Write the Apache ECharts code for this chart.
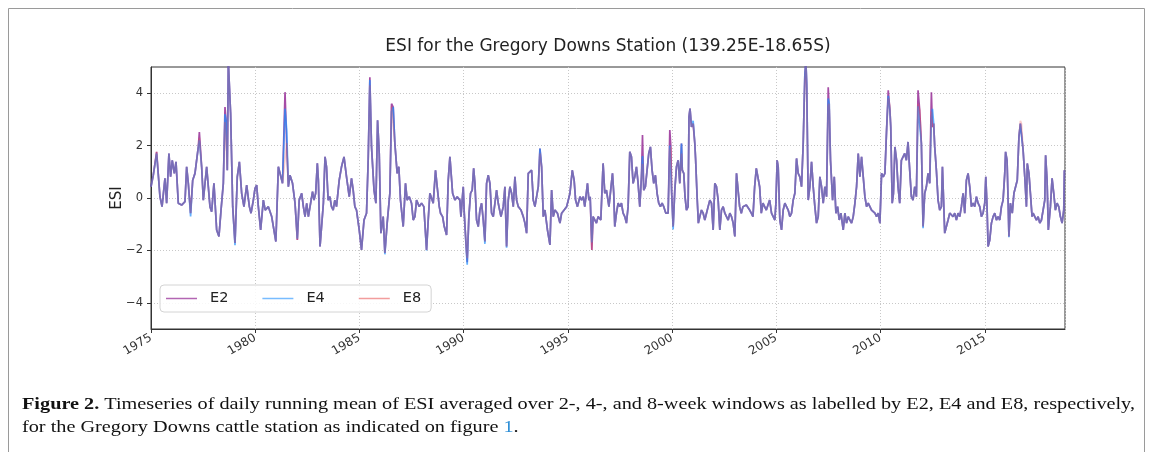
<!DOCTYPE html>
<html><head><meta charset="utf-8">
<script src="https://cdn.jsdelivr.net/npm/echarts@6/dist/echarts.min.js"></script>
<style>html,body{margin:0;padding:0;background:#fff}#c{width:1153px;height:452px}</style>
</head><body><div id="c"></div>
<script>
// ---- data (decimal years) ----
const years = [
1975.00,1975.11,1975.27,1975.43,1975.53,1975.67,1975.75,1975.86,1975.94,1976.02,
1976.12,1976.20,1976.31,1976.47,1976.63,1976.71,1976.79,1976.90,1977.00,1977.11,
1977.27,1977.32,1977.43,1977.51,1977.67,1977.83,1977.91,1978.02,1978.15,1978.26,
1978.36,1978.47,1978.55,1978.60,1978.66,1978.71,1978.82,1978.92,1979.03,1979.14,
1979.24,1979.35,1979.46,1979.59,1979.72,1979.80,1979.91,1979.99,1980.07,1980.15,
1980.26,1980.39,1980.48,1980.63,1980.79,1980.99,1981.11,1981.19,1981.31,1981.43,
1981.51,1981.59,1981.67,1981.79,1981.91,1982.02,1982.11,
1982.23,1982.31,1982.39,1982.47,1982.55,1982.63,1982.75,1982.82,1982.90,1982.98,
1983.03,1983.11,1983.19,1983.27,1983.35,1983.42,1983.50,1983.58,1983.66,1983.74,
1983.82,1983.90,1984.03,1984.14,1984.26,1984.38,1984.51,1984.62,1984.70,1984.78,
1984.86,1984.99,1985.10,1985.22,1985.34,1985.42,1985.50,1985.58,1985.70,1985.79,
1985.87,1985.95,1986.03,1986.14,1986.22,1986.33,1986.46,1986.54,1986.62,1986.70,
1986.81,1986.89,1986.97,1987.10,1987.21,1987.29,1987.39,1987.50,1987.58,1987.66,
1987.74,1987.87,1987.98,1988.09,1988.22,1988.30,1988.38,1988.46,1988.54,1988.65,
1988.73,1988.83,1988.89,1988.99,1989.07,1989.18,1989.26,1989.34,1989.47,1989.58,
1989.69,1989.82,
1989.87,1989.93,1989.98,1990.03,1990.11,1990.17,1990.25,1990.33,1990.41,1990.48,
1990.54,1990.62,1990.70,1990.78,1990.86,1990.94,1991.02,1991.10,1991.18,1991.26,
1991.34,1991.42,1991.50,1991.58,1991.66,1991.79,1991.90,1991.98,1992.06,1992.14,
1992.22,1992.30,1992.38,1992.46,1992.54,1992.62,1992.75,1992.86,1992.94,1993.02,
1993.10,1993.18,1993.26,1993.34,1993.42,1993.50,1993.58,1993.66,1993.74,1993.82,
1993.90,1994.02,1994.14,1994.22,1994.30,1994.38,1994.50,1994.62,1994.70,1994.82,
1994.94,1995.02,1995.10,1995.21,1995.30,1995.37,1995.46,1995.58,1995.66,1995.74,
1995.81,1995.94,1996.01,1996.07,1996.15,1996.21,1996.29,1996.37,1996.45,1996.58,
1996.69,1996.77,1996.85,1996.97,
1997.14,1997.20,1997.25,1997.33,1997.41,1997.49,1997.57,1997.65,1997.73,1997.81,
1997.89,1997.97,1998.05,1998.13,1998.21,1998.29,1998.37,1998.45,1998.53,1998.58,
1998.64,1998.72,1998.80,1998.88,1998.96,1999.04,1999.12,1999.20,1999.28,1999.36,
1999.44,1999.52,1999.60,1999.70,1999.81,1999.89,1999.94,1999.98,2000.05,2000.13,
2000.21,2000.29,2000.37,2000.45,2000.49,2000.56,2000.62,2000.69,2000.77,2000.81,
2000.86,2000.93,2001.01,2001.09,2001.13,2001.20,2001.26,2001.33,2001.41,2001.49,
2001.57,2001.65,2001.73,2001.81,2001.89,2001.97,2002.05,2002.13,2002.21,2002.29,
2002.37,2002.45,2002.53,2002.61,2002.69,2002.77,2002.85,2002.93,2003.01,2003.09,
2003.17,2003.24,2003.32,2003.40,2003.48,2003.56,2003.64,2003.72,2003.80,2003.88,
2003.96,2004.04,2004.12,2004.20,2004.28,2004.36,2004.44,2004.52,2004.60,2004.68,
2004.77,2004.85,2004.93,2004.98,2005.04,2005.09,2005.17,2005.25,2005.33,2005.41,
2005.49,2005.57,2005.65,2005.73,2005.81,2005.89,2005.97,2006.05,2006.13,2006.21,
2006.29,2006.37,2006.42,2006.46,2006.53,2006.61,2006.69,2006.77,2006.85,2006.93,
2007.01,2007.09,2007.17,2007.25,2007.33,2007.41,2007.49,2007.54,2007.60,2007.70,
2007.78,2007.86,2007.94,2008.02,2008.10,2008.21,2008.29,2008.37,2008.45,2008.53,
2008.61,2008.69,2008.77,2008.85,2008.93,2009.01,2009.09,2009.17,2009.25,2009.33,
2009.41,2009.49,2009.57,2009.65,2009.73,2009.81,2009.89,2009.97,2010.05,2010.13,
2010.21,2010.29,2010.37,2010.45,2010.49,2010.56,2010.62,2010.69,2010.77,2010.84,
2010.92,2011.00,2011.08,2011.16,2011.24,2011.32,2011.40,2011.48,2011.56,2011.64,
2011.72,2011.80,2011.88,
2011.96,2012.04,2012.12,2012.20,2012.28,2012.36,2012.44,2012.49,2012.55,2012.60,
2012.68,2012.76,2012.84,2012.92,2012.97,2013.03,2013.08,2013.16,2013.24,2013.32,
2013.40,2013.48,2013.56,2013.64,2013.72,2013.80,2013.88,2013.96,2014.04,2014.12,
2014.20,2014.28,2014.36,2014.44,2014.52,2014.60,2014.68,2014.76,2014.84,2014.92,
2015.00,2015.05,2015.11,2015.16,2015.24,2015.32,2015.40,2015.48,2015.56,2015.64,
2015.72,2015.80,2015.88,2015.96,2016.00,2016.07,2016.12,2016.16,2016.23,2016.32,
2016.40,2016.48,2016.56,2016.64,2016.71,2016.76,2016.84,2016.92,2017.00,2017.04,
2017.12,2017.19,2017.27,2017.32,2017.40,2017.48,2017.56,2017.64,2017.72,2017.80,
2017.88,2017.92,2017.99,2018.05,2018.15,2018.23,2018.31,2018.39,2018.47,2018.55,
2018.63,2018.71,2018.79,2018.82
];

const e2 = [
0.43,0.87,1.76,0.05,-0.33,0.75,-0.20,1.70,0.81,1.44,
0.94,1.38,-0.20,-0.27,-0.14,1.19,0.56,-0.58,0.68,0.94,
1.95,2.52,1.19,-0.08,1.19,-0.33,-0.52,0.56,-1.22,-1.47,
-0.46,0.56,3.47,2.97,1.06,5.20,3.22,-0.33,-1.72,0.81,
1.38,0.18,-0.33,0.49,-0.33,-0.58,-0.08,0.37,0.49,-0.33,
-1.22,-0.08,-0.46,-0.33,-0.71,-1.66,1.19,1.13,0.56,4.04,
2.08,0.43,0.87,0.56,-0.20,-1.60,-0.08,
0.18,-0.33,-0.71,-0.20,-0.71,-0.71,0.24,-0.08,0.18,1.32,
0.68,-1.85,-1.85,-0.20,1.57,1.19,-0.08,0.05,-0.33,-0.46,
-0.08,-0.33,0.68,1.19,1.57,0.81,0.05,0.75,0.30,-0.33,
-0.46,-1.22,-1.98,-0.84,-0.58,1.44,4.61,1.95,0.30,-0.20,
2.97,1.70,-1.34,-0.71,-2.10,-0.96,0.18,3.60,3.47,2.08,
0.94,1.19,-0.08,-1.09,0.56,-0.08,0.05,-0.20,-0.84,-0.71,
-0.08,-0.33,-0.20,-0.33,-1.98,-0.84,0.18,0.11,-0.20,1.06,
0.43,-0.33,-0.58,-0.71,-1.09,-1.41,0.68,1.57,0.18,-0.08,
0.05,-0.08,
-0.71,-0.08,0.43,-0.58,-1.72,-2.45,-0.71,0.18,0.30,1.13,
0.56,-0.84,-1.09,-0.46,-0.20,-0.84,-1.66,0.56,0.87,0.56,
-0.58,-0.71,-0.20,0.30,-0.20,-0.71,-0.33,0.43,-1.85,-0.08,
0.43,0.18,-0.33,0.81,-0.08,-0.33,-0.46,-0.71,-0.96,-1.34,
0.94,0.87,1.06,-0.08,-0.33,-0.33,0.43,1.89,1.19,-0.71,
-0.46,-1.22,-1.79,0.30,-0.71,-0.46,-0.58,-0.96,-0.58,-0.46,
-0.33,-0.08,0.18,1.06,0.68,-0.08,-0.33,0.05,-0.08,0.05,
-0.33,0.56,-0.08,0.05,-1.98,-0.71,-0.71,-0.96,-0.71,-0.84,
1.32,0.18,0.30,-0.33,
0.94,0.18,-1.09,-0.58,-0.20,-0.33,-0.20,-0.58,-0.71,-0.96,
-0.33,1.76,1.57,0.56,0.81,1.19,0.56,-0.33,0.81,2.40,
0.30,0.43,0.43,1.70,1.95,1.06,0.56,0.87,0.18,-0.20,
-0.33,-0.20,-0.33,-0.58,-0.58,2.59,1.95,0.18,-1.09,0.30,
1.19,1.44,0.56,2.08,1.06,0.94,0.05,-0.46,-0.33,3.09,
3.41,2.71,2.84,2.08,1.44,0.05,-0.96,-0.71,-0.46,-0.58,
-0.84,-0.58,-0.33,-0.08,-0.20,-1.22,0.56,0.43,-0.08,-1.22,
-0.46,-0.33,-0.58,-0.71,-0.84,-0.58,-0.71,-0.96,-1.47,0.94,
0.87,-0.33,-0.58,-0.33,-0.33,-0.27,-0.33,-0.46,-0.58,-0.71,
0.43,1.13,1.06,0.43,-0.58,-0.20,-0.33,-0.46,-0.46,-0.08,
-0.58,-0.71,-0.84,-0.20,1.44,1.19,-0.84,-1.22,-0.46,-0.20,
-0.14,-0.46,-0.71,-0.58,-0.08,0.18,1.51,0.94,0.81,0.43,
2.08,4.74,5.20,4.23,-0.08,0.43,1.38,0.43,-0.33,-0.96,
-0.71,0.81,0.43,-0.20,0.43,0.05,4.23,3.35,1.44,-0.08,
0.81,-0.58,-0.33,-0.84,-0.58,-1.22,-0.58,-0.96,-0.71,-0.84,
-0.96,-0.71,-0.20,0.43,1.70,0.81,1.57,0.81,0.05,-0.33,
-0.20,-0.33,-0.46,-0.39,-0.58,-0.71,-0.58,-0.96,0.94,0.81,
0.94,2.59,4.11,3.35,2.71,-0.20,0.18,1.95,1.44,0.43,
-0.20,1.44,1.44,1.70,1.44,2.14,1.06,0.05,-0.08,0.43,
0.05,4.11,3.35,
2.08,-1.09,0.18,0.43,0.94,0.56,4.04,2.71,2.84,1.95,
1.06,-0.08,-0.46,-0.33,1.19,-0.20,-1.34,-1.09,-0.84,-0.58,
-0.58,-0.71,-0.58,-0.84,-0.58,-0.71,-0.33,0.18,-0.58,0.68,
0.94,0.43,-0.33,-0.20,-0.33,0.05,-0.20,-0.33,-0.71,-0.58,
-0.20,0.81,-0.33,-1.85,-1.60,-0.96,-0.71,-0.58,-0.84,-0.71,
-0.84,-0.33,-0.08,0.94,1.76,1.44,-0.08,-1.47,-0.20,-0.58,
0.18,0.43,0.68,2.33,2.84,2.84,1.83,0.81,-0.33,1.32,
0.94,0.18,-0.71,-0.58,-0.71,-0.84,-0.71,-0.96,-0.84,-0.46,
-0.08,1.63,0.68,-1.22,-0.33,0.75,0.18,-0.46,-0.20,-0.33,
-0.71,-0.96,-0.46,1.06
];

const e4 = [
0.43,0.87,1.70,0.05,-0.33,0.75,-0.20,1.70,0.81,1.44,
0.94,1.38,-0.20,-0.27,-0.14,1.19,0.56,-0.70,0.68,0.94,
1.95,2.20,1.19,-0.08,1.19,-0.33,-0.52,0.56,-1.22,-1.47,
-0.46,0.56,3.20,2.97,1.06,5.20,3.22,-0.33,-1.80,0.81,
1.38,0.18,-0.33,0.49,-0.33,-0.58,-0.08,0.37,0.49,-0.33,
-1.22,-0.08,-0.46,-0.33,-0.71,-1.66,1.19,1.13,0.56,3.41,
2.60,0.43,0.87,0.56,-0.20,-1.55,-0.08,
0.18,-0.33,-0.71,-0.20,-0.71,-0.71,0.24,-0.08,0.18,1.32,
0.68,-1.85,-1.85,-0.20,1.57,1.19,-0.08,0.05,-0.33,-0.46,
-0.08,-0.33,0.68,1.19,1.57,0.81,0.05,0.75,0.30,-0.33,
-0.46,-1.22,-1.98,-0.84,-0.58,1.44,4.50,1.95,0.30,-0.20,
2.97,1.70,-1.34,-0.71,-2.15,-0.96,0.18,3.30,3.47,2.08,
0.94,1.19,-0.08,-1.09,0.56,-0.08,0.05,-0.20,-0.84,-0.71,
-0.08,-0.33,-0.20,-0.33,-2.00,-0.84,0.18,0.11,-0.20,1.06,
0.43,-0.33,-0.58,-0.71,-1.09,-1.41,0.68,1.57,0.18,-0.08,
0.05,-0.08,
-0.71,-0.08,0.43,-0.58,-1.72,-2.55,-0.71,0.18,0.30,1.13,
0.56,-0.84,-1.09,-0.46,-0.20,-0.84,-1.75,0.56,0.87,0.56,
-0.58,-0.71,-0.20,0.30,-0.20,-0.71,-0.33,0.43,-1.90,-0.08,
0.43,0.18,-0.33,0.81,-0.08,-0.33,-0.46,-0.71,-0.96,-1.34,
0.94,0.87,1.06,-0.08,-0.33,-0.33,0.43,1.89,1.19,-0.71,
-0.46,-1.22,-1.79,0.30,-0.71,-0.46,-0.58,-0.96,-0.58,-0.46,
-0.33,-0.08,0.18,1.06,0.68,-0.08,-0.33,0.05,-0.08,0.05,
-0.33,0.56,-0.08,0.05,-1.70,-0.71,-0.71,-0.96,-0.71,-0.84,
1.32,0.18,0.30,-0.33,
0.94,0.18,-1.09,-0.58,-0.20,-0.33,-0.20,-0.58,-0.71,-0.96,
-0.33,1.76,1.57,0.56,0.81,1.19,0.56,-0.33,0.81,1.60,
0.30,0.43,0.43,1.70,1.95,1.06,0.56,0.87,0.18,-0.20,
-0.33,-0.20,-0.33,-0.58,-0.58,2.00,1.95,0.18,-1.20,0.30,
1.19,1.44,0.56,2.08,1.06,0.94,0.05,-0.46,-0.33,3.09,
3.41,2.71,2.95,2.08,1.44,0.05,-0.96,-0.71,-0.46,-0.58,
-0.84,-0.58,-0.33,-0.08,-0.20,-1.22,0.56,0.43,-0.08,-1.22,
-0.46,-0.33,-0.58,-0.71,-0.84,-0.58,-0.71,-0.96,-1.47,0.94,
0.87,-0.33,-0.58,-0.33,-0.33,-0.27,-0.33,-0.46,-0.58,-0.71,
0.43,1.13,1.06,0.43,-0.58,-0.20,-0.33,-0.46,-0.46,-0.08,
-0.58,-0.71,-0.84,-0.20,1.44,1.19,-0.84,-1.22,-0.46,-0.20,
-0.14,-0.46,-0.71,-0.58,-0.08,0.18,1.51,0.94,0.81,0.43,
2.08,4.74,5.20,4.40,-0.08,0.43,1.38,0.43,-0.33,-0.96,
-0.71,0.81,0.43,-0.20,0.43,0.05,3.80,3.60,1.44,-0.08,
0.81,-0.58,-0.33,-0.84,-0.58,-1.22,-0.58,-0.96,-0.71,-0.84,
-0.96,-0.71,-0.20,0.43,1.70,0.81,1.57,0.81,0.05,-0.33,
-0.20,-0.33,-0.46,-0.39,-0.58,-0.71,-0.58,-0.96,0.94,0.81,
0.94,2.59,3.90,3.35,2.71,-0.20,0.18,1.95,1.44,0.43,
-0.20,1.44,1.44,1.70,1.44,2.14,1.06,0.05,-0.08,0.43,
0.05,3.50,3.50,
2.08,-1.15,0.18,0.43,0.94,0.56,3.00,3.40,2.84,1.95,
1.06,-0.08,-0.46,-0.33,1.19,-0.20,-1.34,-1.09,-0.84,-0.58,
-0.58,-0.71,-0.58,-0.84,-0.58,-0.71,-0.33,0.18,-0.58,0.68,
0.94,0.43,-0.33,-0.20,-0.33,0.05,-0.20,-0.33,-0.71,-0.58,
-0.20,0.81,-0.33,-1.85,-1.60,-0.96,-0.71,-0.58,-0.84,-0.71,
-0.84,-0.33,-0.08,0.94,1.76,1.44,-0.08,-1.50,-0.20,-0.58,
0.18,0.43,0.68,2.33,2.84,2.84,1.83,0.81,-0.33,1.32,
0.94,0.18,-0.71,-0.58,-0.71,-0.84,-0.71,-0.96,-0.84,-0.46,
-0.08,1.63,0.68,-1.22,-0.33,0.75,0.18,-0.46,-0.20,-0.33,
-0.71,-0.96,-0.46,1.06
];

const e8 = [
0.43,0.87,1.76,0.05,-0.33,0.75,-0.20,1.70,0.81,1.44,
0.94,1.38,-0.20,-0.27,-0.14,1.19,0.56,-0.58,0.68,0.94,
1.95,2.30,1.19,-0.08,1.19,-0.33,-0.52,0.56,-1.22,-1.47,
-0.46,0.56,2.90,2.97,1.06,5.20,3.22,-0.33,-1.72,0.81,
1.38,0.18,-0.33,0.49,-0.33,-0.58,-0.08,0.37,0.49,-0.33,
-1.22,-0.08,-0.46,-0.33,-0.71,-1.66,1.19,1.13,0.56,1.50,
2.10,0.43,0.87,0.56,-0.20,-1.60,-0.08,
0.18,-0.33,-0.71,-0.20,-0.71,-0.71,0.24,-0.08,0.18,1.32,
0.68,-1.85,-1.85,-0.20,1.57,1.19,-0.08,0.05,-0.33,-0.46,
-0.08,-0.33,0.68,1.19,1.57,0.81,0.05,0.75,0.30,-0.33,
-0.46,-1.22,-1.98,-0.84,-0.58,1.44,4.30,1.95,0.30,-0.20,
2.97,1.70,-1.34,-0.71,-2.10,-0.96,0.18,3.50,3.47,2.08,
0.94,1.19,-0.08,-1.09,0.56,-0.08,0.05,-0.20,-0.84,-0.71,
-0.08,-0.33,-0.20,-0.33,-1.98,-0.84,0.18,0.11,-0.20,1.06,
0.43,-0.33,-0.58,-0.71,-1.09,-1.41,0.68,1.57,0.18,-0.08,
0.05,-0.08,
-0.71,-0.08,0.43,-0.58,-1.72,-2.30,-0.71,0.18,0.30,1.13,
0.56,-0.84,-1.09,-0.46,-0.20,-0.84,-1.66,0.56,0.87,0.56,
-0.58,-0.71,-0.20,0.30,-0.20,-0.71,-0.33,0.43,-1.85,-0.08,
0.43,0.18,-0.33,0.81,-0.08,-0.33,-0.46,-0.71,-0.96,-1.34,
0.94,0.87,1.06,-0.08,-0.33,-0.33,0.43,1.70,1.19,-0.71,
-0.46,-1.22,-1.79,0.30,-0.71,-0.46,-0.58,-0.96,-0.58,-0.46,
-0.33,-0.08,0.18,1.06,0.68,-0.08,-0.33,0.05,-0.08,0.05,
-0.33,0.56,-0.08,0.05,-1.98,-0.71,-0.71,-0.96,-0.71,-0.84,
1.32,0.18,0.30,-0.33,
0.94,0.18,-1.09,-0.58,-0.20,-0.33,-0.20,-0.58,-0.71,-0.96,
-0.33,1.76,1.57,0.56,0.81,1.19,0.56,-0.33,0.81,1.30,
0.30,0.43,0.43,1.70,1.95,1.06,0.56,0.87,0.18,-0.20,
-0.33,-0.20,-0.33,-0.58,-0.58,1.80,1.95,0.18,-1.09,0.30,
1.19,1.44,0.56,1.70,1.06,0.94,0.05,-0.46,-0.33,3.09,
3.41,2.71,2.84,2.08,1.44,0.05,-0.96,-0.71,-0.46,-0.58,
-0.84,-0.58,-0.33,-0.08,-0.20,-1.22,0.56,0.43,-0.08,-1.22,
-0.46,-0.33,-0.58,-0.71,-0.84,-0.58,-0.71,-0.96,-1.47,0.94,
0.87,-0.33,-0.58,-0.33,-0.33,-0.27,-0.33,-0.46,-0.58,-0.71,
0.43,1.13,1.06,0.43,-0.58,-0.20,-0.33,-0.46,-0.46,-0.08,
-0.58,-0.71,-0.84,-0.20,1.44,1.19,-0.84,-1.22,-0.46,-0.20,
-0.14,-0.46,-0.71,-0.58,-0.08,0.18,1.51,0.94,0.81,0.43,
2.08,4.50,5.20,4.23,-0.08,0.43,1.38,0.43,-0.33,-0.96,
-0.71,0.81,0.43,-0.20,0.43,0.05,3.50,3.60,1.44,-0.08,
0.81,-0.58,-0.33,-0.84,-0.58,-1.22,-0.58,-0.96,-0.71,-0.84,
-0.96,-0.71,-0.20,0.43,1.70,0.81,1.57,0.81,0.05,-0.33,
-0.20,-0.33,-0.46,-0.39,-0.58,-0.71,-0.58,-0.96,0.94,0.81,
0.94,2.59,3.80,3.50,2.71,-0.20,0.18,1.95,1.44,0.43,
-0.20,1.44,1.44,1.70,1.44,2.14,1.06,0.05,-0.08,0.43,
0.05,3.60,3.35,
2.08,-1.09,0.18,0.43,0.94,0.56,3.30,2.71,2.84,1.95,
1.06,-0.08,-0.46,-0.33,1.19,-0.20,-1.34,-1.09,-0.84,-0.58,
-0.58,-0.71,-0.58,-0.84,-0.58,-0.71,-0.33,0.18,-0.58,0.68,
0.94,0.43,-0.33,-0.20,-0.33,0.05,-0.20,-0.33,-0.71,-0.58,
-0.20,0.81,-0.33,-1.85,-1.60,-0.96,-0.71,-0.58,-0.84,-0.71,
-0.84,-0.33,-0.08,0.94,1.76,1.44,-0.08,-1.47,-0.20,-0.58,
0.18,0.43,0.68,2.33,2.95,2.84,1.83,0.81,-0.33,1.32,
0.94,0.18,-0.71,-0.58,-0.71,-0.84,-0.71,-0.96,-0.84,-0.46,
-0.08,1.63,0.68,-1.22,-0.33,0.75,0.18,-0.46,-0.20,-0.33,
-0.71,-0.96,-0.46,1.06
];

const seriesNames = ['E2', 'E4', 'E8'];
const yTicks = [-4, -2, 0, 2, 4];
const titleText = 'ESI for the Gregory Downs Station (139.25E-18.65S)';
const captionBold = 'Figure 2.';
const captionLine1 = ' Timeseries of daily running mean of ESI averaged over 2-, 4-, and 8-week windows as labelled by E2, E4 and E8, respectively,';
const captionLine2a = 'for the Gregory Downs cattle station as indicated on figure ';
const captionLink = '1';
const captionLine2b = '.';

if (years.length !== e2.length || years.length !== e4.length || years.length !== e8.length) {
  console.error('length mismatch', years.length, e2.length, e4.length, e8.length);
}

const SANS = '"DejaVu Sans", sans-serif';
const SERIF = '"Liberation Serif", serif';
const capSize = 17;

// fit caption width (layout only)
const ctx = document.createElement('canvas').getContext('2d');
ctx.font = 'bold ' + capSize + 'px "Liberation Serif"';
const wb = ctx.measureText(captionBold).width;
ctx.font = capSize + 'px "Liberation Serif"';
const wr = ctx.measureText(captionLine1).width;
const capScale = 1113 / (wb + wr);

const colors = ['rgba(128,0,128,0.7)', 'rgba(30,144,255,0.7)', 'rgba(240,80,80,0.3)'];
const legendColors = ['rgba(128,0,128,0.6)', 'rgba(30,144,255,0.6)', 'rgba(230,60,60,0.5)'];
const vals = [e2, e4, e8];
// legend line glyph: 31px line, with invisible specks widening the box so text sits 14px after it
const legendIcon = 'path://M0,5.3H31V6.7H0Z M39,0L39,0.01L38.99,0.01Z M39,12L39,11.99L38.99,11.99Z';

const chart = echarts.init(document.getElementById('c'), null, {renderer: 'canvas'});
chart.setOption({
  animation: false,
  backgroundColor: '#fff',
  title: {
    text: titleText, left: 603, top: 33, textAlign: 'center',
    textStyle: {fontFamily: SANS, fontSize: 17, fontWeight: 'normal', color: '#222'}
  },
  grid: {left: 151, right: 88, top: 67, bottom: 123, show: true, borderColor: '#333', borderWidth: 1, backgroundColor: 'transparent'},
  legend: {
    left: 160, top: 285, itemWidth: 39, itemHeight: 12, itemGap: 34,
    padding: [6, 10, 6, 6],
    backgroundColor: 'rgba(255,255,255,0.85)', borderColor: '#d4d4d4', borderWidth: 1, borderRadius: 4,
    textStyle: {fontFamily: SANS, fontSize: 14.5, color: '#222'},
    data: seriesNames.map((n, k) => ({name: n, icon: legendIcon, itemStyle: {color: legendColors[k]}}))
  },
  xAxis: {
    type: 'value', min: 1975, max: 2018.85, interval: 5,
    axisLine: {show: true, onZero: false, lineStyle: {color: '#333', width: 1}},
    axisTick: {show: true, length: 4, lineStyle: {color: '#333'}},
    axisLabel: {rotate: 30, fontFamily: SANS, fontSize: 12, color: '#333', margin: 8, showMaxLabel: false,
      formatter: v => (Math.abs(v % 5) < 1e-6 ? String(Math.round(v)) : '')},
    splitLine: {show: true, lineStyle: {color: '#c8c8c8', type: [1, 2], width: 1}}
  },
  yAxis: {
    type: 'value', min: -5, max: 5,
    name: 'ESI', nameLocation: 'middle', nameGap: 26, nameRotate: 90, nameMoveOverlap: false,
    nameTextStyle: {fontFamily: SANS, fontSize: 15, color: '#222'},
    axisLine: {show: true, onZero: false, lineStyle: {color: '#333', width: 1}},
    axisTick: {show: true, length: 4, lineStyle: {color: '#333'}, customValues: yTicks},
    axisLabel: {fontFamily: SANS, fontSize: 11.5, color: '#333', margin: 8, customValues: yTicks,
      formatter: v => String(v).replace('-', '\u2212')},
    splitLine: {show: true, lineStyle: {color: '#c8c8c8', type: [1, 2], width: 1}}
  },
  series: seriesNames.map((n, k) => ({
    name: n, type: 'line', symbol: 'none', showSymbol: false, z: 2 + k,
    lineStyle: {color: colors[k], width: 1.7},
    itemStyle: {color: colors[k]},
    data: years.map((y, i) => [y, vals[k][i]])
  })),
  graphic: [
    {type: 'rect', shape: {x: 8.5, y: 8.5, width: 1136, height: 470}, style: {fill: 'none', stroke: '#9a9a9a', lineWidth: 1}, silent: true},
    {type: 'text', x: 22, y: 405, scaleX: capScale, originX: 0,
      style: {text: '{b|' + captionBold + '}' + captionLine1, fontFamily: SERIF, fontSize: capSize, fill: '#111', verticalAlign: 'middle',
        rich: {b: {fontFamily: SERIF, fontSize: capSize, fontWeight: 'bold', fill: '#111'}}}},
    {type: 'text', x: 22, y: 428, scaleX: capScale, originX: 0,
      style: {text: captionLine2a + '{l|' + captionLink + '}' + captionLine2b, fontFamily: SERIF, fontSize: capSize, fill: '#111', verticalAlign: 'middle',
        rich: {l: {fontFamily: SERIF, fontSize: capSize, fill: '#2f8fd6'}}}}
  ]
});
</script></body></html>
